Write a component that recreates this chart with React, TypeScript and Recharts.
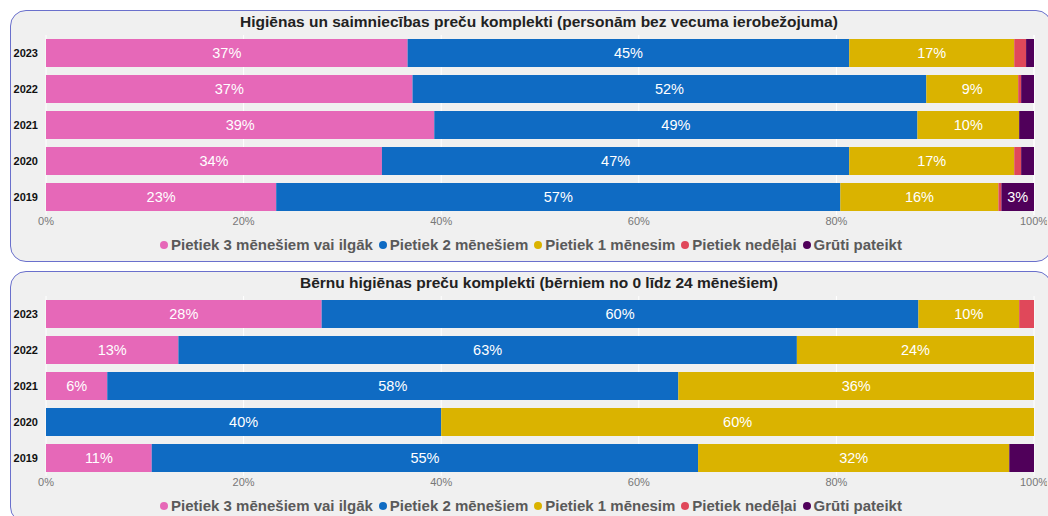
import { BarChart, Bar, XAxis, YAxis, CartesianGrid, LabelList } from 'recharts';

const years = ['2023', '2022', '2021', '2020', '2019'];
const seriesNames = [
  'Pietiek 3 mēnešiem vai ilgāk',
  'Pietiek 2 mēnešiem',
  'Pietiek 1 mēnesim',
  'Pietiek nedēļai',
  'Grūti pateikt',
];
const seriesColors = ['#e668b8', '#0f6bc3', '#dab300', '#e0485a', '#50005a'];
const xTicks = [0, 20, 40, 60, 80, 100];

// personām bez vecuma ierobežojuma
const adult3m = [36.6, 37.1, 39.3, 34.0, 23.3];
const adult2m = [44.7, 52.0, 48.9, 47.3, 57.1];
const adult1m = [16.7, 9.3, 10.3, 16.7, 16.0];
const adultWeek = [1.2, 0.3, 0, 0.7, 0.3];
const adultHard = [0.8, 1.3, 1.5, 1.3, 3.3];

// bērniem no 0 līdz 24 mēnešiem
const child3m = [27.9, 13.4, 6.2, 0, 10.7];
const child2m = [60.4, 62.6, 57.8, 40.0, 55.3];
const child1m = [10.2, 24.0, 36.0, 60.0, 31.5];
const childWeek = [1.5, 0, 0, 0, 0];
const childHard = [0, 0, 0, 0, 2.5];

const keys = ['s0', 's1', 's2', 's3', 's4'];

function buildRows(cols: number[][]) {
  return years.map((year, i) => {
    const row: { [k: string]: any } = { year };
    cols.forEach((c, j) => (row[keys[j]] = c[i]));
    return row;
  });
}

const adultData = buildRows([adult3m, adult2m, adult1m, adultWeek, adultHard]);
const childData = buildRows([child3m, child2m, child1m, childWeek, childHard]);

const FONT = '"Liberation Sans", Arial, sans-serif';

const labelFmt = (v: any) => (typeof v === 'number' && v >= 3 ? `${Math.round(v)}%` : '');

function Legend() {
  return (
    <div
      style={{
        display: 'flex',
        justifyContent: 'center',
        alignItems: 'center',
        gap: 6,
        fontFamily: FONT,
        fontWeight: 700,
        fontSize: 15,
        color: '#5a5a5a',
        whiteSpace: 'nowrap',
      }}
    >
      {seriesNames.map((n, i) => (
        <span key={n} style={{ display: 'flex', alignItems: 'center' }}>
          <span
            style={{
              width: 8,
              height: 8,
              borderRadius: 4,
              background: seriesColors[i],
              marginRight: 3,
              display: 'inline-block',
            }}
          />
          {n}
        </span>
      ))}
    </div>
  );
}

function Panel({ top, title, data, plotTop }: { top: number; title: string; data: any[]; plotTop: number }) {
  return (
    <div
      style={{
        position: 'absolute',
        left: 10,
        top,
        width: 1040,
        height: 250,
        border: '1px solid #6a70cc',
        borderRadius: 16,
        background: '#f0f0f0',
        overflow: 'hidden',
      }}
    >
      <div
        style={{
          position: 'absolute',
          left: 0,
          width: 1056,
          top: 2,
          textAlign: 'center',
          fontFamily: FONT,
          fontWeight: 700,
          fontSize: 15.5,
          color: '#222',
        }}
      >
        {title}
      </div>
      <div style={{ position: 'absolute', left: 0, top: 0 }}>
        <BarChart
          width={1036}
          height={plotTop + 180 + 30}
          data={data}
          layout="vertical"
          barCategoryGap={4}
          margin={{ top: plotTop, right: 13, left: 0, bottom: 0 }}
        >
          <CartesianGrid horizontal={false} stroke="#ffffff" strokeWidth={1} />
          <XAxis
            type="number"
            domain={[0, 100]}
            ticks={xTicks}
            tickFormatter={(v) => `${v}%`}
            axisLine={false}
            tickLine={false}
            tickSize={0}
            tickMargin={2}
            height={30}
            interval={0}
            tick={{ fontSize: 11, fill: '#777', fontFamily: FONT }}
          />
          <YAxis
            type="category"
            dataKey="year"
            width={35}
            axisLine={false}
            tickLine={false}
            tickSize={0}
            tickMargin={8}
            tick={{ fontSize: 11, fill: '#111', fontWeight: 700, fontFamily: FONT }}
          />
          {keys.map((k, i) => (
            <Bar key={k} dataKey={k} stackId="a" fill={seriesColors[i]} isAnimationActive={false}>
              <LabelList
                dataKey={k}
                position="center"
                formatter={labelFmt}
                fill="#ffffff"
                style={{ fontSize: 14.5, fontFamily: FONT }}
              />
            </Bar>
          ))}
        </BarChart>
      </div>
      <div style={{ position: 'absolute', left: 0, width: 1040, top: plotTop + 180 + 21 }}>
        <Legend />
      </div>
    </div>
  );
}

export default function App() {
  return (
    <div style={{ position: 'fixed', left: 0, top: 0, width: 1048, height: 516, background: '#fff', overflow: 'hidden' }}>
      <Panel
        top={10}
        title="Higiēnas un saimniecības preču komplekti (personām bez vecuma ierobežojuma)"
        data={adultData}
        plotTop={24}
      />
      <Panel
        top={271}
        title="Bērnu higiēnas preču komplekti (bērniem no 0 līdz 24 mēnešiem)"
        data={childData}
        plotTop={24}
      />
    </div>
  );
}
